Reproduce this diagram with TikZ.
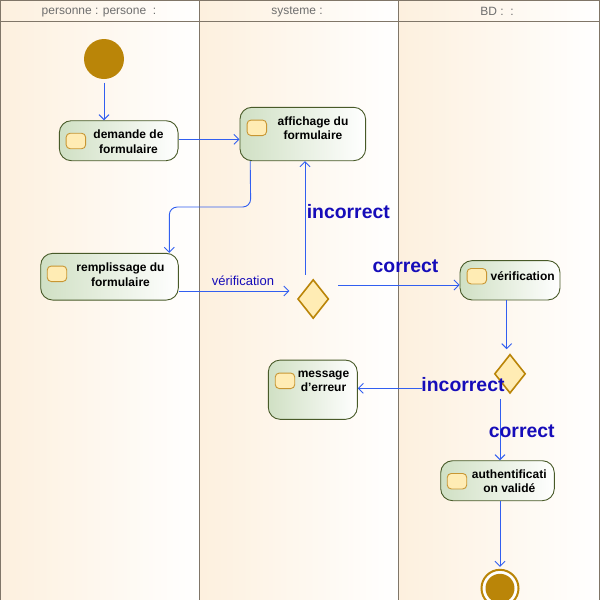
\documentclass[tikz,border=0pt]{standalone}
\usepackage{fontspec}
\setmainfont{Liberation Sans}
\usetikzlibrary{arrows.meta,shapes.geometric,calc}
\definecolor{laneC}{RGB}{253,240,222}
\definecolor{laneLine}{RGB}{128,118,104}
\definecolor{hdrText}{RGB}{110,110,110}
\definecolor{actFill}{RGB}{208,224,196}
\definecolor{actDraw}{RGB}{72,90,40}
\definecolor{iconFill}{RGB}{255,236,180}
\definecolor{iconDraw}{RGB}{200,150,50}
\definecolor{gold}{RGB}{186,133,8}
\definecolor{flow}{RGB}{50,95,240}
\definecolor{lblC}{RGB}{22,12,185}
\begin{document}
\begin{tikzpicture}[x=1pt,y=-1pt,
 act/.style={draw=actDraw, line width=0.9pt, rounded corners=12pt, left color=actFill, right color=white, inner sep=0pt},
 icon/.style={draw=iconDraw, fill=iconFill, line width=0.9pt, rounded corners=4pt, minimum width=19.5pt, minimum height=15.5pt, inner sep=0pt},
 acttext/.style={font=\fontsize{12}{14.5}\selectfont\bfseries, align=center, inner sep=0pt},
 flowarr/.style={draw=flow, line width=0.9pt, -{Straight Barb[length=5pt,width=10pt]}},
 bigl/.style={font=\fontsize{19.4}{22}\selectfont\bfseries, text=lblC, inner sep=0pt},
 smalll/.style={font=\fontsize{13}{15}\selectfont, text=lblC, inner sep=0pt},
 dec/.style={diamond, aspect=0.8, draw=gold, fill=iconFill, line width=1.6pt, minimum width=31pt, minimum height=39pt, inner sep=0pt},
 hdr/.style={font=\fontsize{12}{14}\selectfont, text=hdrText, inner sep=0pt},
 lane/.style={left color=laneC, right color=white},
 laneline/.style={draw=laneLine, line width=1pt}]
\useasboundingbox (0,0) rectangle (600,600);
% lanes
\fill[lane] (0,0) rectangle (199.5,600);
\fill[lane] (199.5,0) rectangle (398.5,600);
\fill[lane] (398.5,0) rectangle (600,600);
\draw[laneline] (0.5,0) -- (0.5,600);
\draw[laneline] (199.5,0) -- (199.5,600);
\draw[laneline] (398.5,0) -- (398.5,600);
\draw[laneline] (599.5,0) -- (599.5,600);
\draw[laneline] (0,0.5) -- (600,0.5);
\draw[laneline] (0,21.5) -- (600,21.5);
\node[hdr] (h1) at (99,13) {personne : persone \ :};
\node[hdr] (h2) at (297,12) {systeme :};
\node[hdr] (h3) at (497,11.5) {BD : \ :};
% start / end
\node[circle, fill=gold, minimum size=40pt, inner sep=0pt] (start) at (104,59) {};
\node[circle, draw=gold, fill=white, line width=2pt, minimum size=37pt, inner sep=0pt] (endst) at (500,588.3) {};
\node[circle, fill=gold, minimum size=29pt, inner sep=0pt] (endin) at (500,588.3) {};
% activities
\node[act, minimum width=118.7pt, minimum height=40pt] (dem) at (118.7,140.7) {};
\node[icon] (demi) at (75.9,141) {};
\node[acttext] (demt) at (128.5,141.6) {demande de\\formulaire};

\node[act, minimum width=125.7pt, minimum height=53.4pt] (aff) at (302.8,134) {};
\node[icon] (affi) at (256.8,127.8) {};
\node[acttext] (afft) at (313,128.3) {affichage du\\formulaire};

\node[act, minimum width=137.6pt, minimum height=46.7pt] (rem) at (109.5,276.7) {};
\node[icon] (remi) at (57,273.8) {};
\node[acttext] (remt) at (120.5,274.5) {remplissage du\\formulaire};

\node[act, minimum width=100pt, minimum height=39.3pt] (ver) at (510,280.3) {};
\node[icon] (veri) at (476.8,276.2) {};
\node[acttext] (vert) at (522.7,275.7) {vérification};

\node[act, minimum width=89pt, minimum height=59.3pt] (msg) at (312.8,389.7) {};
\node[icon] (msgi) at (285,380.8) {};
\node[acttext] (msgt) at (323.5,381.2) {message\\d'erreur};

\node[act, minimum width=113.6pt, minimum height=40pt] (auth) at (497.5,480.7) {};
\node[icon] (authi) at (457,481.2) {};
\node[acttext] (autht) at (509.3,481.4) {authentificati\\on validé};
% decisions
\node[dec] (d1) at (313.2,299) {};
\node[dec] (d2) at (510,373.8) {};
% connectors
\coordinate (s0) at ($(start.south)+(0,3.5)$);
\draw[flowarr] (s0) -- (s0 |- dem.north);
\coordinate (s1) at ($(dem.east)+(0,-1.4)$);
\draw[flowarr] (s1) -- (s1 -| aff.west);
\coordinate (b1) at (250.7,207);
\coordinate (b2) at (169.3,207);
\draw[flowarr, rounded corners=8pt] ($(aff.south west)+(10.7,0)$) -- (b1) -- (b2) -- (b2 |- rem.north);
\draw[flowarr] ($(rem.east)+(0,14.3)$) -- ($(d1.west)+(-7.5,-8)$);
\draw[flowarr] ($(d1.north)+(-8.2,-3.8)$) -- ($(aff.south)+(2.2,0)$);
\draw[flowarr] ($(d1.east)+(8.7,-14)$) -- ($(ver.west)+(0,4.7)$);
\draw[flowarr] ($(ver.south)+(-3.3,0)$) -- ($(d2.north)+(-3.3,-4.3)$);
\draw[flowarr, shorten <=78pt] ($(d2.west)+(6,14.5)$) -- ($(msg.east)+(0,-1.4)$);
\draw[flowarr] ($(d2.south)+(-10,4.7)$) -- ($(auth.north)+(2.5,0)$);
\draw[flowarr] ($(auth.south)+(2.5,0)$) -- ($(endst.north)+(0,-2)$);
% labels
\node[smalll] (lv) at (243,280.5) {vérification};
\node[bigl] (li1) at (348.3,211.7) {incorrect};
\node[bigl] (lc1) at (405.5,266.7) {correct};
\node[bigl] (li2) at (463,385) {incorrect};
\node[bigl] (lc2) at (521.7,431.7) {correct};
\end{tikzpicture}
\end{document}
